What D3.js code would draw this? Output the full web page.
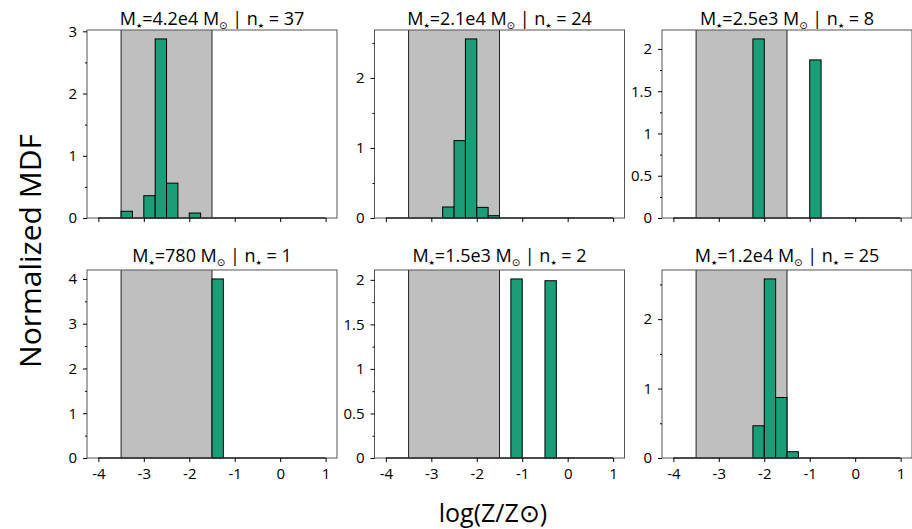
<!DOCTYPE html>
<html lang="en">
<head>
  <meta charset="UTF-8">
  <script src="https://d3js.org/d3.v7.min.js"></script>
  <style>
    body { margin: 0; background: #fff; }
    text { font-family: "Open Sans", "Liberation Sans", sans-serif; fill: #000; }
  </style>
</head>
<body>
<div id="my_dataviz"></div>
<script>
// histogram bins, log(Z/Zsun), width 0.25
var binLefts = [-4, -3.75, -3.5, -3.25, -3, -2.75, -2.5, -2.25, -2, -1.75,
                -1.5, -1.25, -1, -0.75, -0.5, -0.25, 0, 0.25, 0.5, 0.75];
var binWidth = 0.25;

// panel labels
var masses = ["4.2e4", "2.1e4", "2.5e3", "780", "1.5e3", "1.2e4"];
var nStars = [37, 24, 8, 1, 2, 25];

// normalized MDF per panel (density per bin)
var mdf1 = [0, 0, 0.108, 0, 0.358, 2.877, 0.56, 0, 0.08, 0, 0, 0, 0, 0, 0, 0, 0, 0, 0, 0];
var mdf2 = [0, 0, 0, 0, 0, 0.157, 1.105, 2.557, 0.152, 0.033, 0, 0, 0, 0, 0, 0, 0, 0, 0, 0];
var mdf3 = [0, 0, 0, 0, 0, 0, 0, 2.118, 0, 0, 0, 0, 1.87, 0, 0, 0, 0, 0, 0, 0];
var mdf4 = [0, 0, 0, 0, 0, 0, 0, 0, 0, 0, 4.0, 0, 0, 0, 0, 0, 0, 0, 0, 0];
var mdf5 = [0, 0, 0, 0, 0, 0, 0, 0, 0, 0, 0, 2.01, 0, 0, 1.99, 0, 0, 0, 0, 0];
var mdf6 = [0, 0, 0, 0, 0, 0, 0, 0.464, 2.579, 0.871, 0.091, 0, 0, 0, 0, 0, 0, 0, 0, 0];

// shaded metallicity range
var bandRange = [-3.5, -1.5];

// tick labels
var xTicks = [-4, -3, -2, -1, 0, 1];
var yTicks1 = [0, 1, 2, 3];
var yTicks2 = [0, 1, 2];
var yTicks3 = [0, 0.5, 1, 1.5, 2];
var yTicks4 = [0, 1, 2, 3, 4];
var yTicks5 = [0, 0.5, 1, 1.5, 2];
var yTicks6 = [0, 1, 2];

var panels = [
  { mass: masses[0], n: nStars[0], mdf: mdf1, ticks: yTicks1 },
  { mass: masses[1], n: nStars[1], mdf: mdf2, ticks: yTicks2 },
  { mass: masses[2], n: nStars[2], mdf: mdf3, ticks: yTicks3 },
  { mass: masses[3], n: nStars[3], mdf: mdf4, ticks: yTicks4 },
  { mass: masses[4], n: nStars[4], mdf: mdf5, ticks: yTicks5 },
  { mass: masses[5], n: nStars[5], mdf: mdf6, ticks: yTicks6 }
];

// layout
var W = 912, H = 529;
var panelW = 250, panelH = 188;
var lefts = [87, 374.5, 662];
var tops = [30, 270];
var green = "#1b9e77";

var svg = d3.select("#my_dataviz")
  .append("svg")
  .attr("width", W)
  .attr("height", H);

panels.forEach(function(p, i) {
  var col = i % 3, row = Math.floor(i / 3);
  var g = svg.append("g")
    .attr("transform", "translate(" + lefts[col] + "," + tops[row] + ")");

  var x = d3.scaleLinear().domain([-4.25, 1.25]).range([0, panelW]);
  var ymax = d3.max(p.mdf) * 1.05;
  var y = d3.scaleLinear().domain([0, ymax]).range([panelH, 0]);
  var step = p.ticks[1] - p.ticks[0];
  var minor = d3.range(0, ymax, step / 2).filter(function(v) {
    return p.ticks.indexOf(+v.toFixed(4)) < 0;
  });

  // shaded band
  g.append("rect")
    .attr("x", x(bandRange[0]))
    .attr("y", 0)
    .attr("width", x(bandRange[1]) - x(bandRange[0]))
    .attr("height", panelH)
    .attr("fill", "#bfbfbf");
  bandRange.forEach(function(v) {
    g.append("line")
      .attr("x1", x(v)).attr("x2", x(v))
      .attr("y1", 0).attr("y2", panelH)
      .attr("stroke", "#222").attr("stroke-width", 1);
  });

  // histogram bars
  var data = binLefts.map(function(b, k) { return { x0: b, v: p.mdf[k] }; })
    .filter(function(d) { return d.v > 0; });
  g.selectAll(".bar")
    .data(data)
    .enter()
    .append("rect")
      .attr("class", "bar")
      .attr("x", function(d) { return x(d.x0); })
      .attr("y", function(d) { return y(d.v); })
      .attr("width", function(d) { return x(d.x0 + binWidth) - x(d.x0); })
      .attr("height", function(d) { return panelH - y(d.v); })
      .attr("fill", green)
      .attr("stroke", "#000")
      .attr("stroke-width", 1);

  // zero-height bins edge line
  g.append("line")
    .attr("x1", x(binLefts[0]))
    .attr("x2", x(binLefts[binLefts.length - 1] + binWidth))
    .attr("y1", panelH).attr("y2", panelH)
    .attr("stroke", "#000").attr("stroke-width", 1.6);

  // frame
  g.append("rect")
    .attr("x", 0).attr("y", 0)
    .attr("width", panelW).attr("height", panelH)
    .attr("fill", "none")
    .attr("stroke", "#555").attr("stroke-width", 1);

  // y axis
  var yAxis = g.append("g")
    .call(d3.axisLeft(y).tickValues(p.ticks).tickSize(4).tickPadding(6)
      .tickFormat(function(d) { return d3.format("~g")(d).replace("\u2212", "-"); }));
  yAxis.select(".domain").remove();
  yAxis.selectAll("text").style("font-size", "15px").attr("font-family", null);
  g.append("g")
    .call(d3.axisLeft(y).tickValues(minor).tickSize(2).tickFormat(""))
    .select(".domain").remove();

  // x axis
  var xAxis = g.append("g")
    .attr("transform", "translate(0," + panelH + ")")
    .call(d3.axisBottom(x).tickValues(xTicks).tickSize(4).tickPadding(6)
      .tickFormat(row === 1 ? function(d) { return String(d); } : ""));
  xAxis.select(".domain").remove();
  xAxis.selectAll("text").style("font-size", "15px").attr("font-family", null);

  // title
  var t = g.append("text")
    .attr("x", panelW / 2)
    .attr("y", row === 0 ? -5 : -8)
    .attr("text-anchor", "middle")
    .style("font-size", "18px");
  t.append("tspan").text("M");
  t.append("tspan").text("\u2605").style("font-size", "7px").attr("dy", 3)
    .style("font-family", "'DejaVu Sans'");
  t.append("tspan").text("=" + p.mass + " M").attr("dy", -3);
  t.append("tspan").text("\u2299").style("font-size", "10px").attr("dy", 4)
    .style("font-family", "'DejaVu Sans'");
  t.append("tspan").text(" | n").attr("dy", -4);
  t.append("tspan").text("\u2605").style("font-size", "7px").attr("dy", 3)
    .style("font-family", "'DejaVu Sans'");
  t.append("tspan").text(" = " + p.n).attr("dy", -3);
});

// axis labels
svg.append("text")
  .attr("transform", "translate(41,251) rotate(-90)")
  .attr("text-anchor", "middle")
  .style("font-size", "30px")
  .text("Normalized MDF");

svg.append("text")
  .attr("x", 493)
  .attr("y", 522)
  .attr("text-anchor", "middle")
  .style("font-size", "25px")
  .text("log(Z/Z\u2299)");
</script>
</body>
</html>
